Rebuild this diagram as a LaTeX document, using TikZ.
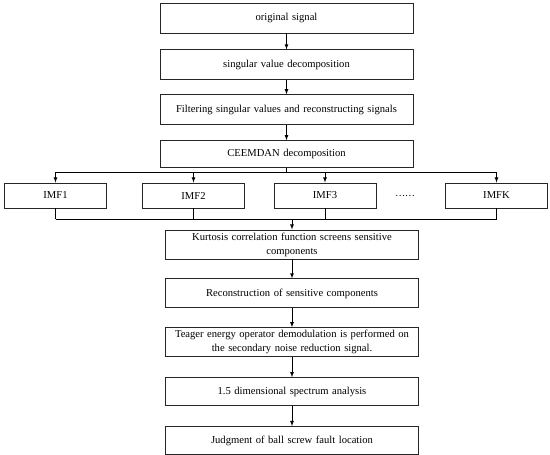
\documentclass[tikz,border=0pt]{standalone}
\usepackage{fontspec}
\setmainfont{Liberation Serif}
\newfontfamily\cjk{Noto Sans CJK SC}
\usetikzlibrary{positioning,arrows,calc}
\tikzset{process/.style={rectangle, draw=black!85, line width=0.9pt,
    minimum width=253pt, minimum height=30pt, text width=248pt,
    text centered, inner sep=2pt, font=\fontsize{10.6}{14}\selectfont},
  imf/.style={process, minimum width=102pt, text width=95pt, minimum height=25pt},
  myarrow/.style={->, >=latex, line width=0.8pt},
  line/.style={-, line width=0.8pt}
}
\begin{document}
\begin{tikzpicture}[x=1pt, y=-1pt]
  \useasboundingbox (0,0) rectangle (550,455);

  %Upper chain
  \node (orig) [process] at (286.5,18) {original signal};
  \node (svd) [process, below=16pt of orig] {singular value decomposition};
  \node (filter) [process, below=14pt of svd] {Filtering singular values and reconstructing signals};
  \node (ceemdan) [process, below=15pt of filter, minimum height=27pt] {CEEMDAN decomposition};

  %IMF row
  \node (imf1) [imf] at (55.5,195.5) {IMF1};
  \node (imf2) [imf] at (193.5,195.5) {IMF2};
  \node (imf3) [imf] at (325,195.5) {IMF3};
  \node (dots) at (405,195.5) {\cjk\fontsize{9}{10}\selectfont ……};
  \node (imfk) [imf] at (496.5,195.5) {IMFK};
  \coordinate (topbus) at (0,172);
  \coordinate (botbus) at (0,219);

  %Lower chain
  \node (kurt) [process, minimum height=29pt] at (292,244.5)
    {Kurtosis correlation function screens sensitive\\components};
  \node (recon) [process, below=19pt of kurt, minimum height=29pt] {Reconstruction of sensitive components};
  \node (teager) [process, below=19pt of recon, minimum height=29pt]
    {Teager energy operator demodulation is performed on\\the secondary noise reduction signal.};
  \node (spec) [process, below=20pt of teager, minimum height=28pt] {1.5 dimensional spectrum analysis};
  \node (judge) [process, below=20pt of spec, minimum height=28pt] {Judgment of ball screw fault location};

  \draw [myarrow] (orig) -- (svd);
  \draw [myarrow] (svd) -- (filter);
  \draw [myarrow] (filter) -- (ceemdan);

  \draw [line] (ceemdan.south) -- (ceemdan.south |- topbus);
  \draw [line] (imf1.north |- topbus) -- (imfk.north |- topbus);
  \draw [line] (imf1.south |- botbus) -- (imfk.south |- botbus);
  \foreach \n in {imf1,imf2,imf3,imfk} {
    \draw [myarrow] (\n.north |- topbus) -- (\n.north);
    \draw [line] (\n.south) -- (\n.south |- botbus);
  }
  \draw [myarrow] (kurt.north |- botbus) -- (kurt.north);

  \draw [myarrow] (kurt) -- (recon);
  \draw [myarrow] (recon) -- (teager);
  \draw [myarrow] (teager) -- (spec);
  \draw [myarrow] (spec) -- (judge);
\end{tikzpicture}
\end{document}
